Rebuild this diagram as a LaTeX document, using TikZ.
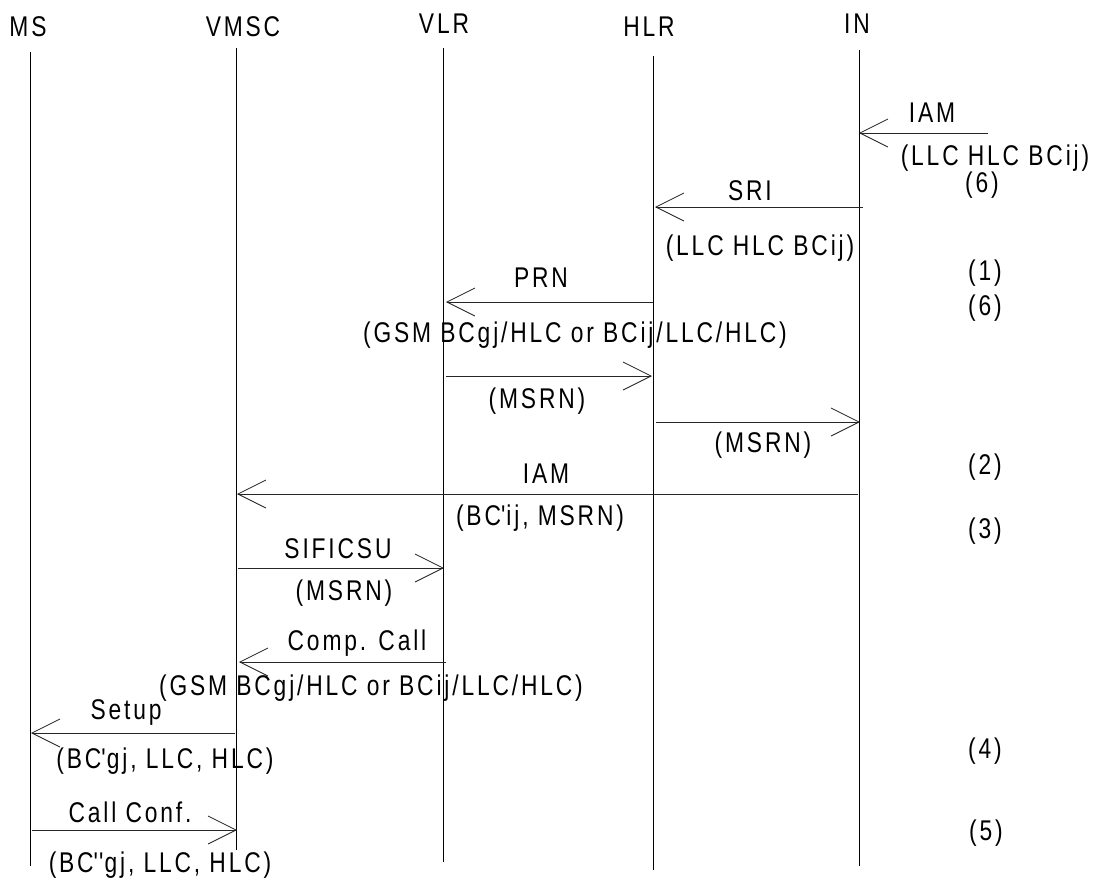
\documentclass[tikz,border=0pt]{standalone}
\usepackage{fontspec}
\setmainfont{Liberation Sans}[FakeStretch=0.8, LetterSpace=10]
\usetikzlibrary{arrows.meta}
\newcommand{\sq}{\textquotesingle}
\begin{document}
\begin{tikzpicture}[x=1pt,y=-1pt,
  font=\fontsize{28.5}{32}\selectfont,
  life/.style={line width=0.9pt, black},
  msg/.style={line width=0.9pt, black!85, -{Straight Barb[length=28pt,width=28pt,line width=0.8pt]}},
  lbl/.style={anchor=base, inner sep=0pt}]
\useasboundingbox (0,0) rectangle (1093,879);
% headers
\node[lbl] (ms)   at (28,36)  {MS};
\node[lbl] (vmsc) at (243,36) {VMSC};
\node[lbl] (vlr)  at (444,33) {VLR};
\node[lbl] (hlr)  at (649,36) {HLR};
\node[lbl] (in)   at (857,33) {IN};
% lifelines
\coordinate (msT) at (30,52);    \coordinate (msB) at (30,866);
\coordinate (vmT) at (236,48);   \coordinate (vmB) at (236,850);
\coordinate (vlT) at (443,48);   \coordinate (vlB) at (443,862);
\coordinate (hlT) at (653,56);   \coordinate (hlB) at (653,870);
\coordinate (inT) at (859,50);   \coordinate (inB) at (859,866);
\draw[life] (msT) -- (msB);
\draw[life] (vmT) -- (vmB);
\draw[life] (vlT) -- (vlB);
\draw[life] (hlT) -- (hlB);
\draw[life] (inT) -- (inB);
% message end points
\coordinate (m1a) at (988,133); \coordinate (m1b) at (859,133);
\coordinate (m2a) at (863,207); \coordinate (m2b) at (655,207);
\coordinate (m3a) at (653,302); \coordinate (m3b) at (446,302);
\coordinate (m4a) at (446,376); \coordinate (m4b) at (652,376);
\coordinate (m5a) at (656,422); \coordinate (m5b) at (860,422);
\coordinate (m6a) at (858,494); \coordinate (m6b) at (237,494);
\coordinate (m7a) at (238,568); \coordinate (m7b) at (444,568);
\coordinate (m8a) at (446,662); \coordinate (m8b) at (239,662);
\coordinate (m9a) at (235,733); \coordinate (m9b) at (31,733);
\coordinate (m10a) at (32,830); \coordinate (m10b) at (237,830);
\draw[msg] (m1a) -- (m1b);
\draw[msg] (m2a) -- (m2b);
\draw[msg] (m3a) -- (m3b);
\draw[msg] (m4a) -- (m4b);
\draw[msg] (m5a) -- (m5b);
\draw[msg] (m6a) -- (m6b);
\draw[msg] (m7a) -- (m7b);
\draw[msg] (m8a) -- (m8b);
\draw[msg] (m9a) -- (m9b);
\draw[msg] (m10a) -- (m10b);
% labels
\node[lbl] (l1)  at (932,122) {IAM};
\node[lbl] (l1p) at (995,165) {(LLC HLC BCij)};
\node[lbl] (n6a) at (982,192) {(6)};
\node[lbl] (l2)  at (750,200) {SRI};
\node[lbl] (l2p) at (760,255) {(LLC HLC BCij)};
\node[lbl] (n1)  at (985,280) {(1)};
\node[lbl] (l3)  at (541,287) {PRN};
\node[lbl] (n6b) at (985,315) {(6)};
\node[lbl] (l3p) at (575,342) {(GSM BCgj/HLC or BCij/LLC/HLC)};
\node[lbl] (l4p) at (537,408) {(MSRN)};
\node[lbl] (l5p) at (763,452) {(MSRN)};
\node[lbl] (l6)  at (546,483) {IAM};
\node[lbl] (n2)  at (985,474) {(2)};
\node[lbl] (l6p) at (540,525) {(BC\sq ij, MSRN)};
\node[lbl] (n3)  at (985,538) {(3)};
\node[lbl] (l7)  at (338,558) {SIFICSU};
\node[lbl] (l7p) at (344,600) {(MSRN)};
\node[lbl] (l8)  at (357,650) {Comp. Call};
\node[lbl] (l8p) at (371,695) {(GSM BCgj/HLC or BCij/LLC/HLC)};
\node[lbl] (l9)  at (126,719) {Setup};
\node[lbl] (l9p) at (165,768) {(BC\sq gj, LLC, HLC)};
\node[lbl] (n4)  at (985,758) {(4)};
\node[lbl] (l10) at (130,822) {Call Conf.};
\node[lbl] (n5)  at (986,840) {(5)};
\node[lbl] (l10p) at (160,872) {(BC\sq\sq gj, LLC, HLC)};
\end{tikzpicture}
\end{document}
